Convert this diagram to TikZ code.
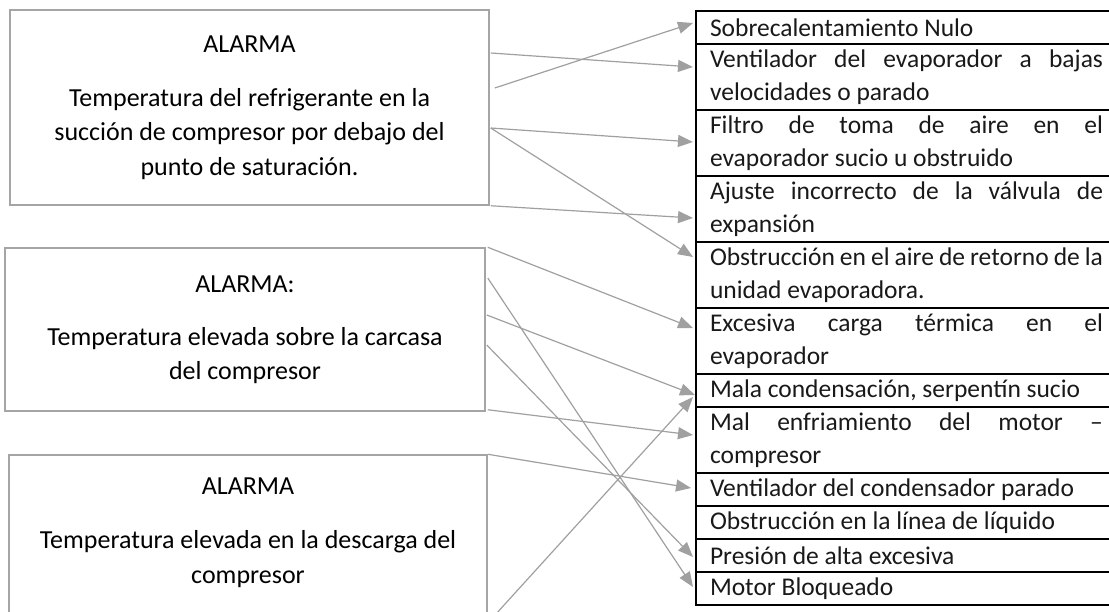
\documentclass[tikz,border=0pt]{standalone}
\usepackage{fontspec}
\setmainfont{Carlito}
\usetikzlibrary{arrows.meta, positioning, calc}
\definecolor{boxgray}{RGB}{165,165,165}
\definecolor{linkgray}{RGB}{160,160,160}
\definecolor{tabtext}{RGB}{25,25,25}

\begin{document}
\begin{tikzpicture}[
    x=0.5pt, y=-0.5pt,
    node distance=0pt,
    alarmbox/.style={rectangle, draw=boxgray, line width=0.75pt, align=center,
                     font=\fontsize{13}{17.25}\selectfont, inner sep=0pt},
    causebox/.style={rectangle, draw=black, line width=0.9pt, align=justify,
                     text width=196.5pt, inner xsep=7pt, inner ysep=0pt,
                     outer sep=0pt, font=\fontsize{12.75}{16.65}\selectfont,
                     text=tabtext},
    oneline/.style={causebox, minimum height=16.5pt},
    twoline/.style={causebox, minimum height=33pt},
    link/.style={-{Triangle[length=7.5pt,width=6pt]}, line width=0.6pt,
                 color=linkgray},
]
\useasboundingbox (0,0) rectangle (1109,611);
\clip (0,0) rectangle (1109,611);

% alarm boxes on the left
\node[alarmbox, minimum width=239.5pt, minimum height=97.5pt] (alarm1) at (249.5,107.5)
     {ALARMA\\[9.75pt]Temperatura del refrigerante en la\\
      succión de compresor por debajo del\\punto de saturación.};

\node[alarmbox, minimum width=240pt, minimum height=81.5pt] (alarm2) at (245,329.5)
     {ALARMA:\\[9.25pt]Temperatura elevada sobre la carcasa\\del compresor};

\node[alarmbox, minimum width=239pt, minimum height=92.5pt] (alarm3) at (248,547.5)
     {ALARMA\\[10pt]Temperatura elevada en la descarga del\\compresor\\\mbox{}};

% table of causes on the right
\node[oneline, anchor=north west] (r1) at (696,11) {Sobrecalentamiento Nulo};
\node[twoline, below=of r1] (r2) {Ventilador del evaporador a bajas\linebreak velocidades o parado};
\node[twoline, below=of r2] (r3) {Filtro de toma de aire en el\linebreak evaporador sucio u obstruido};
\node[twoline, below=of r3] (r4) {Ajuste incorrecto de la válvula de\linebreak expansión};
\node[twoline, below=of r4] (r5) {Obstrucción en el aire de retorno de la\linebreak unidad evaporadora.};
\node[twoline, below=of r5] (r6) {Excesiva carga térmica en el\linebreak evaporador};
\node[oneline, below=of r6] (r7) {Mala condensación, serpentín sucio};
\node[twoline, below=of r7] (r8) {Mal enfriamiento del motor –\linebreak compresor};
\node[oneline, below=of r8] (r9) {Ventilador del condensador parado};
\node[oneline, below=of r9] (r10) {Obstrucción en la línea de líquido};
\node[oneline, below=of r10] (r11) {Presión de alta excesiva};
\node[oneline, below=of r11] (r12) {Motor Bloqueado};

\draw[link] ($(alarm1.east)+(1,-54.5)$) -- ($(r2.west)+(-3,-10)$);
\draw[link] ($(alarm1.east)+(5,-19.5)$) -- ($(r1.west)+(-3,-4.5)$);
\draw[link] ($(alarm1.east)+(1,20.5)$) -- ($(r3.west)+(-3,-1)$);
\draw[link] ($(alarm1.east)+(1,20.5)$) -- ($(r5.west)+(-3,-18)$);
\draw[link] ($(alarm1.south east)+(1,0)$) -- ($(r4.west)+(-3,9)$);

\draw[link] ($(alarm2.north east)+(2,0)$) -- ($(r6.west)+(-3,-13)$);
\draw[link] ($(alarm2.east)+(2,-51.5)$) -- ($(r12.west)+(-3,-1.5)$);
\draw[link] ($(alarm2.east)+(1,-14.5)$) -- ($(r7.west)+(-1,4.5)$);
\draw[link] ($(alarm2.east)+(1,15.5)$) -- ($(r11.west)+(-3,1.5)$);
\draw[link] ($(alarm2.south east)+(2,-2)$) -- ($(r8.west)+(-3,-5)$);

\draw[link] (alarm3.north east) -- ($(r9.west)+(-5,-1.5)$);
\draw[link] ($(alarm3.east)+(10,64.5)$) -- ($(r7.west)+(-3,6.5)$);

\end{tikzpicture}
\end{document}
